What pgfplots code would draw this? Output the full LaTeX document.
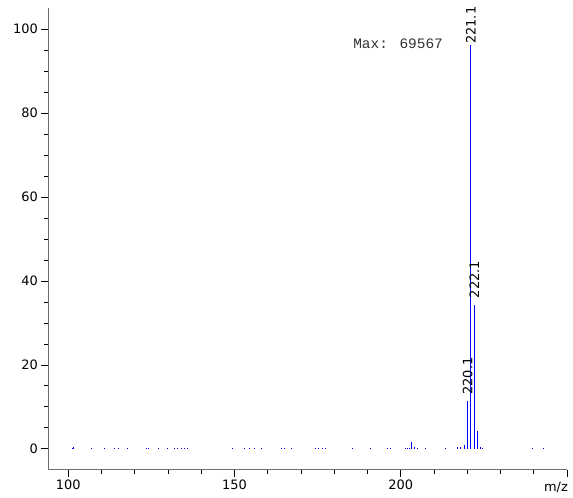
\documentclass[border=0pt]{standalone}
\usepackage{pgfplots}
\pgfplotsset{compat=1.18}
\usepackage{fontspec}
\setmainfont{DejaVu Sans}
\newfontfamily\monofont{Liberation Mono}
\definecolor{axisgray}{RGB}{110,110,110}
\definecolor{peakblue}{RGB}{0,0,255}
\begin{document}
\begin{tikzpicture}
\begin{axis}[
  name=ms,
  scale only axis,
  width=519bp, height=462bp,
  xmin=94, xmax=250,
  ymin=-5, ymax=105,
  axis lines*=left,
  axis line style={axisgray, line width=1.3bp},
  tick align=outside,
  major tick length=7bp,
  minor tick length=4bp,
  tick style={black, line width=0.6bp},
  xtick={100,150,200,250},
  xticklabels={100,150,200,{}},
  minor x tick num=4,
  ytick={0,20,40,60,80,100},
  minor y tick num=3,
  /pgf/number format/assume math mode=true,
  every tick label/.append style={font=\fontsize{13}{15}\selectfont, black},
  clip=false,
]
\addplot[ycomb, draw=peakblue, line width=1bp, mark=none] coordinates {
  (101.3,0.3) (101.7,0.5) (107.0,0.2) (111.0,0.2) (114.0,0.2) (115.0,0.2)
  (117.8,0.2) (123.5,0.2) (124.0,0.2) (127.0,0.2) (129.8,0.2)
  (132.0,0.3) (133.0,0.3) (134.0,0.3) (135.0,0.3) (136.0,0.3)
  (149.5,0.2) (153.0,0.2) (154.5,0.2) (156.0,0.2) (158.0,0.2)
  (164.0,0.2) (165.0,0.2) (167.0,0.2)
  (174.4,0.3) (175.4,0.3) (176.4,0.3) (177.3,0.3)
  (185.4,0.2) (191.0,0.2) (196.0,0.2) (197.0,0.2)
  (201.4,0.3) (202.0,0.3) (202.6,0.3) (203.2,1.7) (204.0,0.5) (205.1,0.3)
  (207.5,0.2) (213.6,0.2) (217.1,0.4) (218.1,0.4) (219.1,0.8)
  (220.1,11.4) (221.1,100) (222.1,34.3) (223.1,4.3) (224.0,0.5) (224.7,0.2)
  (239.6,0.2) (242.8,0.2)
};
\node[rotate=90, anchor=west, inner sep=1bp, font=\fontsize{13}{15}\selectfont]
  at (axis cs:220.1,12.6) {220.1};
\node[rotate=90, anchor=west, inner sep=1bp, font=\fontsize{13}{15}\selectfont]
  at (axis cs:222.1,35.6) {222.1};
\node[rotate=90, anchor=west, inner sep=1bp, fill=white, font=\fontsize{13}{15}\selectfont]
  at (axis cs:221.1,96.2) {221.1};
\node[font=\monofont\fontsize{14.5}{16}\selectfont, text=black!80]
  at (axis cs:199.2,96.5) {Max: 69567};
\node[anchor=base east, inner sep=0pt, xshift=1bp, yshift=-22bp,
  font=\fontsize{13}{15}\selectfont] at (rel axis cs:1,0) {m/z};
\end{axis}
\path (ms.south west) ++(-48.3bp,-28bp) coordinate (bbl)
      (ms.north east) ++(6bp,8bp) coordinate (bbr);
\pgfresetboundingbox
\path[use as bounding box] (bbl) rectangle (bbr);
\end{tikzpicture}
\end{document}
